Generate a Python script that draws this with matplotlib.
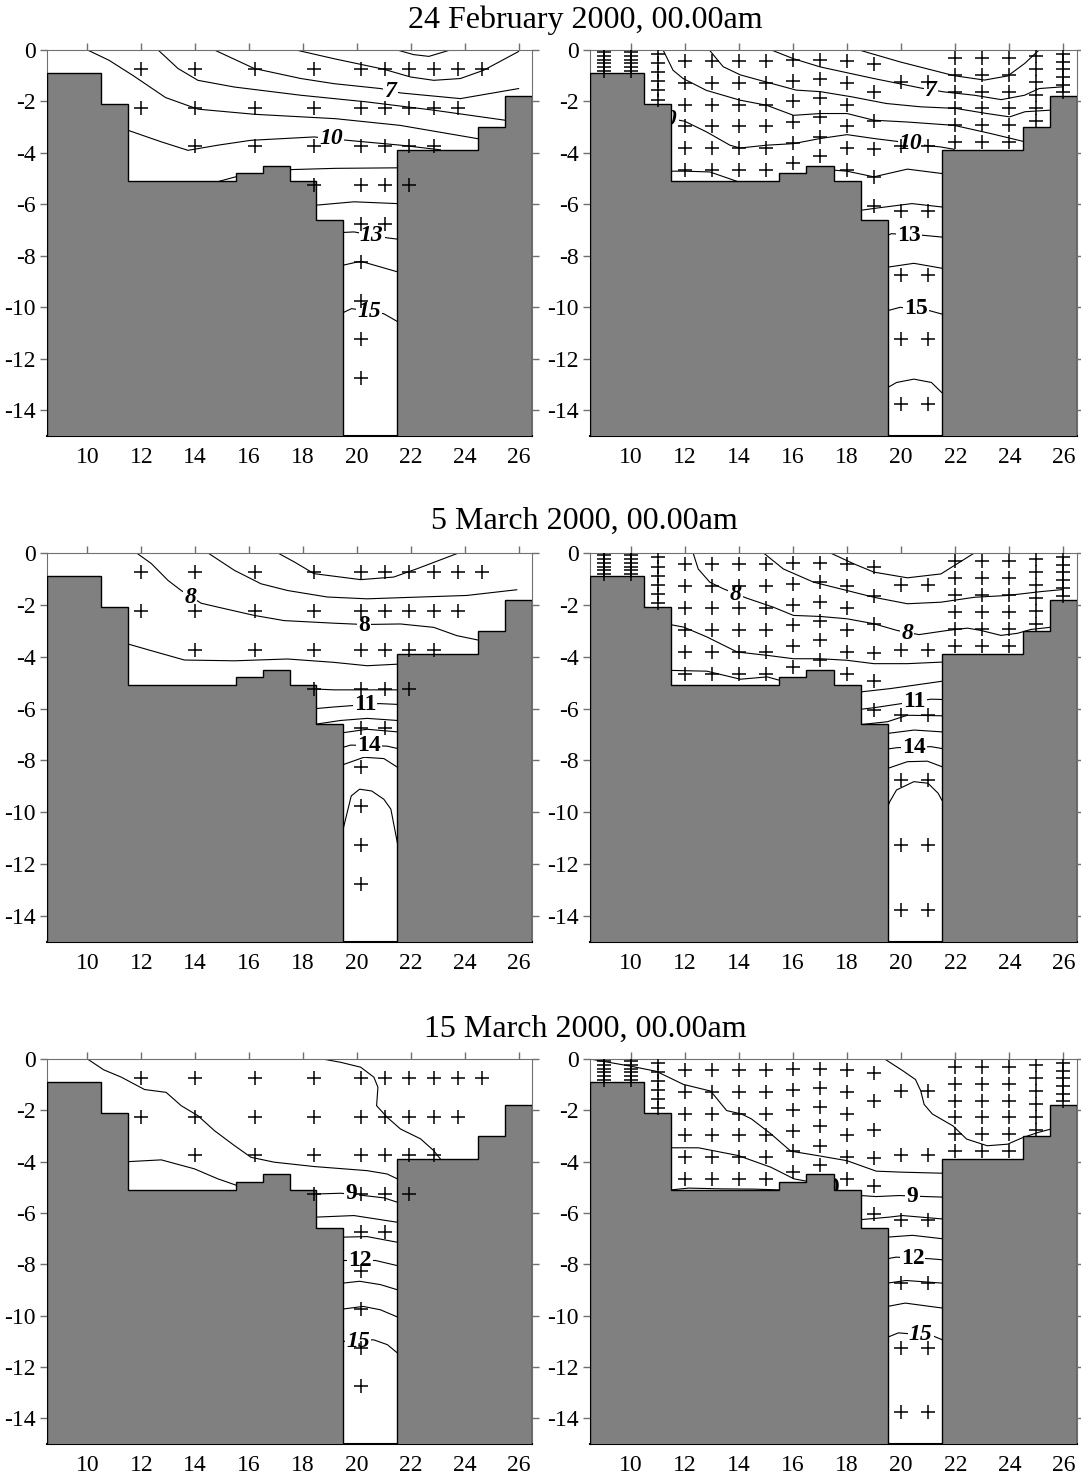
import numpy as np
import matplotlib
matplotlib.use("Agg")
import matplotlib.pyplot as plt

plt.rcParams['font.family'] = ['Liberation Serif', 'DejaVu Serif']
plt.rcParams['axes.unicode_minus'] = False

# bathymetry of the section (step edges in km, depth of each step in m)
bathy_edges = [8.5, 10.5, 11.5, 15.5, 16.5, 17.5, 18.5, 19.5, 21.5, 24.5, 25.5, 26.5]
bathy_depth = [-0.9, -2.1, -5.1, -4.8, -4.5, -5.1, -6.6, -15.0, -3.9, -3.0, -1.8]

# observation stations (left column of panels)
obs_depth = [-0.75, -2.25, -3.75, -5.25, -6.75, -8.25, -9.75, -11.25, -12.75]
obs_x = [
    [12.0, 14.0, 16.2, 18.4, 20.15, 21.05, 21.95, 22.85, 23.75, 24.65],
    [12.0, 14.0, 16.2, 18.4, 20.15, 21.05, 21.95, 22.85, 23.75],
    [14.0, 16.2, 18.4, 20.15, 21.05, 21.95, 22.85],
    [18.4, 20.15, 21.05, 21.95],
    [20.15, 21.05],
    [20.15],
    [20.15],
    [20.15],
    [20.15],
]

# model grid columns (right column of panels), 6 sigma levels
model_x = [9, 10, 11, 12, 13, 14, 15, 16, 17, 18, 19, 20, 21, 22, 23, 24, 25, 26]
sigma = [0.083, 0.25, 0.417, 0.583, 0.75, 0.917]

titles = ["24 February 2000, 00.00am", "5 March 2000, 00.00am", "15 March 2000, 00.00am"]

# isotherms: (x, depth) polylines
feb_obs_lines = [
    ([21.49, 22.1, 22.67, 23.47], [0, -0.18, -0.25, 0]),
    ([17.73, 19.15, 21.0, 21.99, 22.85, 23.84, 24.7, 26.0], [0, -0.34, -0.75, -1.05, -1.18, -1.11, -0.79, -0.06]),
    ([14.71, 16.19, 17.92, 19.15, 20.88, 21.62, 23.84, 26.0], [0, -0.72, -1.11, -1.31, -1.5, -1.67, -1.89, -1.5]),
    ([12.62, 13.36, 14.1, 15.45, 17.92, 20.38, 22.85, 25.5], [0, -0.72, -1.18, -1.44, -1.76, -2.02, -2.34, -2.73]),
    ([10.0, 10.8, 11.7, 12.9, 14.1, 16.2, 19.2, 21.6, 24.5], [0, -0.4, -1.0, -1.85, -2.3, -2.5, -2.67, -2.93, -3.45]),
    ([11.5, 12.74, 13.73, 14.84, 16.07, 18.41, 19.64, 21.62, 23.1], [-3.12, -3.57, -3.9, -3.7, -3.51, -3.38, -3.51, -3.7, -3.88]),
    ([14.9, 15.5], [-5.1, -4.93]),
    ([17.5, 19.2, 21.5], [-4.65, -4.6, -4.58]),
    ([18.5, 19.89, 21.5], [-6.03, -5.9, -5.97]),
    ([19.5, 19.89, 21.12, 21.5], [-7.09, -7.07, -7.3, -7.35]),
    ([19.5, 20.14, 21.5], [-8.36, -8.21, -8.62]),
    ([19.5, 19.8, 21.0, 21.5], [-10.2, -10.05, -10.25, -10.55]),
]
feb_obs_labels = [("7", 21.25, -1.6), ("10", 19.05, -3.45), ("13", 20.55, -7.2), ("15", 20.45, -10.15)]

feb_mod_lines = [
    ([18.44, 19.98, 21.96, 23.08, 23.94, 24.56, 25.1], [0, -0.47, -1.0, -1.17, -1.01, -0.53, 0]),
    ([15.2, 16.02, 17.01, 18.99, 20.73, 21.59, 22.71, 23.7, 24.56, 25.1, 26.0], [0, -0.34, -0.66, -1.11, -1.48, -1.63, -1.76, -1.93, -1.76, -1.5, -1.43]),
    ([12.91, 13.42, 14.06, 14.96, 16.12, 17.01, 18.17, 19.45, 20.73, 22.01, 23.17, 24.01, 24.58, 25.5], [0, -0.65, -0.97, -1.23, -1.56, -1.62, -1.82, -2.08, -2.21, -2.27, -2.47, -2.6, -2.4, -2.34]),
    ([11.2, 11.57, 11.94, 12.8, 14.04, 15.03, 16.02, 17.01, 18.0, 18.99, 20.23, 21.96, 23.32, 24.5], [0, -0.79, -1.11, -1.57, -1.95, -2.15, -2.54, -2.47, -2.47, -2.73, -2.8, -2.93, -3.25, -3.55]),
    ([11.48, 12.0, 12.8, 13.67, 14.04, 15.03, 16.02, 17.01, 18.0, 18.99, 19.98, 20.85, 21.47, 21.96], [-2.67, -2.77, -3.18, -3.7, -3.81, -3.7, -3.64, -3.44, -3.29, -3.44, -3.57, -3.7, -3.77, -3.86]),
    ([11.5, 12.0, 12.93, 13.92], [-4.71, -4.71, -4.74, -5.1]),
    ([17.5, 18.0, 18.99, 20.23, 21.5], [-4.67, -4.71, -4.93, -4.63, -4.8]),
    ([18.5, 19.2, 20.4, 21.5], [-6.23, -6.13, -5.97, -6.1]),
    ([19.5, 19.64, 20.8, 21.5], [-7.2, -7.14, -7.2, -7.27]),
    ([19.5, 20.47, 21.5], [-8.44, -8.29, -8.48]),
    ([19.5, 19.96, 21.05, 21.5], [-10.13, -10.0, -10.13, -10.26]),
    ([19.5, 19.83, 20.47, 21.12, 21.5], [-13.12, -12.92, -12.79, -12.92, -13.31]),
]
feb_mod_labels = [("7", 21.1, -1.57), ("10", 11.3, -2.72), ("10", 20.35, -3.62), ("13", 20.3, -7.2), ("15", 20.55, -10.06)]

mar5_obs_lines = [
    ([17.06, 17.68, 18.41, 20.14, 21.37, 22.23, 23.78], [0, -0.35, -0.8, -1.03, -0.93, -0.61, 0]),
    ([14.47, 15.45, 16.44, 17.43, 18.9, 20.38, 22.36, 24.08, 25.93], [0, -0.67, -1.19, -1.45, -1.7, -1.77, -1.7, -1.64, -1.42]),
    ([11.82, 12.37, 12.99, 13.48, 14.22, 14.84, 16.19, 17.3, 19.15, 20.26, 21.62, 22.85, 23.71, 24.5], [0, -0.41, -1.06, -1.45, -1.94, -2.09, -2.41, -2.61, -2.71, -2.76, -2.74, -2.87, -3.19, -3.36]),
    ([11.5, 12.37, 13.6, 15.45, 17.43, 19.15, 20.38, 21.5], [-3.51, -3.77, -4.13, -4.16, -4.09, -4.22, -4.35, -4.29]),
    ([18.5, 19.15, 21.5], [-5.25, -5.28, -5.28]),
    ([18.5, 19.15, 20.82, 21.5], [-6.0, -5.94, -5.81, -5.84]),
    ([18.5, 19.4, 20.38, 21.5], [-6.6, -6.46, -6.38, -6.46]),
    ([19.5, 20.38, 21.5], [-6.93, -6.8, -6.9]),
    ([19.5, 19.77, 21.12, 21.5], [-7.49, -7.41, -7.45, -7.54]),
    ([19.5, 20.26, 21.0, 21.5], [-8.16, -7.88, -7.93, -8.26]),
    ([19.5, 19.79, 20.1, 20.55, 21.0, 21.26, 21.5], [-10.6, -9.37, -9.11, -9.18, -9.5, -9.88, -11.17]),
]
mar5_obs_labels = [("8", 13.82, -1.72), ("8", 20.26, -2.78), ("11", 20.3, -5.86), ("14", 20.45, -7.42)]

mar5_mod_lines = [
    ([17.38, 18.25, 18.99, 20.23, 21.47, 22.71], [0, -0.42, -0.74, -0.96, -0.81, 0]),
    ([14.91, 15.65, 16.77, 18.0, 18.99, 20.23, 21.47, 22.71, 23.94, 25.18, 26.0], [0, -0.62, -1.13, -1.45, -1.71, -1.96, -1.9, -1.71, -1.64, -1.49, -1.41]),
    ([12.31, 12.5, 12.93, 13.42, 14.28, 15.27, 16.02, 17.01, 18.0, 18.99, 19.85, 20.66, 21.71, 22.45, 22.95, 23.69, 24.3, 24.8, 25.5], [0, -0.62, -1.13, -1.38, -1.74, -2.09, -2.41, -2.45, -2.54, -2.73, -2.99, -3.15, -2.99, -2.9, -2.99, -3.18, -3.1, -2.95, -2.87]),
    ([11.5, 11.96, 12.82, 13.94, 15.05, 16.02, 17.01, 18.0, 18.99, 20.23, 21.5], [-2.77, -2.86, -3.24, -3.82, -3.95, -4.08, -4.08, -4.14, -4.27, -4.27, -4.21]),
    ([11.5, 12.82, 14.06, 15.05, 15.5], [-4.53, -4.56, -4.87, -4.78, -4.91]),
    ([18.5, 19.61, 21.5], [-5.36, -5.23, -4.95]),
    ([18.5, 18.99, 21.1, 21.5], [-6.03, -5.97, -5.64, -5.65]),
    ([18.5, 19.49, 20.23, 21.5], [-6.62, -6.51, -6.26, -6.28]),
    ([19.5, 20.48, 21.5], [-6.96, -6.83, -6.9]),
    ([19.5, 19.85, 21.1, 21.5], [-7.56, -7.51, -7.47, -7.54]),
    ([19.5, 20.23, 20.97, 21.5], [-8.31, -8.05, -8.03, -8.24]),
    ([19.5, 19.58, 19.83, 20.47, 20.99, 21.37, 21.5], [-9.8, -9.59, -9.14, -8.82, -8.88, -9.27, -9.53]),
]
mar5_mod_labels = [("8", 13.88, -1.62), ("8", 20.23, -3.12), ("11", 20.48, -5.72), ("14", 20.48, -7.51)]

mar15_obs_lines = [
    ([18.72, 19.4, 20.14, 20.63, 20.78, 20.73, 21.12, 21.62, 22.36, 22.85, 23.1], [0, -0.13, -0.32, -0.71, -1.1, -1.82, -2.27, -2.73, -3.11, -3.57, -3.9]),
    ([10.0, 10.6, 11.26, 12.12, 12.92, 13.48, 14.1, 14.71, 15.45, 16.07, 16.93, 18.41, 20.38, 21.12, 21.5], [0, -0.42, -0.71, -1.19, -1.3, -1.82, -2.21, -2.79, -3.37, -3.83, -4.02, -4.19, -4.35, -4.48, -4.67]),
    ([11.5, 12.74, 13.97, 14.84, 15.5], [-4.0, -3.93, -4.28, -4.67, -4.91]),
    ([18.5, 19.4, 20.26, 21.0, 21.5], [-5.26, -5.23, -5.32, -5.41, -5.58]),
    ([18.5, 19.89, 21.5], [-6.16, -6.1, -6.36]),
    ([19.5, 20.38, 21.5], [-6.94, -6.92, -7.14]),
    ([19.5, 20.69, 21.5], [-7.85, -7.85, -8.05]),
    ([19.5, 20.1, 20.87, 21.5], [-8.73, -8.66, -8.79, -8.99]),
    ([19.5, 20.23, 20.87, 21.5], [-9.74, -9.64, -9.77, -10.05]),
    ([19.5, 20.62, 21.13, 21.5], [-11.0, -10.94, -11.13, -11.45]),
]
mar15_obs_labels = [("9", 19.8, -5.25), ("12", 20.1, -7.85), ("15", 20.05, -11.0)]

mar15_mod_lines = [
    ([19.39, 20.05, 20.53, 20.72, 20.85, 21.15, 21.92, 22.42, 23.18, 23.93, 24.5, 25.07, 25.5], [0, -0.45, -0.8, -1.23, -1.77, -2.14, -2.61, -3.12, -3.38, -3.32, -3.06, -2.86, -2.74]),
    ([8.5, 10.0, 10.95, 11.95, 12.96, 13.55, 14.09, 14.46, 15.19, 15.92, 16.89, 17.99, 19.08, 20.05, 21.5], [0, -0.28, -0.48, -0.99, -1.25, -2.01, -2.14, -2.33, -2.92, -3.59, -3.76, -3.96, -4.37, -4.41, -4.45]),
    ([11.5, 12.51, 13.97, 15.19, 16.04, 16.5], [-3.46, -3.46, -3.76, -4.22, -4.67, -4.76]),
    ([11.5, 12.15, 13.36, 14.58, 15.5], [-5.1, -5.03, -5.06, -5.07, -5.1]),
    ([18.5, 19.08, 19.93, 20.91, 21.5], [-5.32, -5.36, -5.32, -5.36, -5.38]),
    ([18.5, 19.57, 20.05, 21.5], [-6.26, -6.16, -6.1, -6.23]),
    ([19.5, 20.42, 21.5], [-6.94, -6.87, -7.0]),
    ([19.5, 19.81, 21.03, 21.5], [-7.78, -7.72, -7.78, -7.82]),
    ([19.5, 20.18, 21.5], [-8.73, -8.63, -8.73]),
    ([19.5, 20.15, 21.5], [-9.64, -9.51, -9.7]),
    ([19.5, 19.9, 20.72, 21.2, 21.5], [-10.84, -10.67, -10.74, -10.8, -10.93]),
]
mar15_mod_labels = [("10", 17.3, -5.0), ("9", 20.42, -5.35), ("12", 20.42, -7.78), ("15", 20.72, -10.72)]

panel_lines = [[feb_obs_lines, feb_mod_lines], [mar5_obs_lines, mar5_mod_lines], [mar15_obs_lines, mar15_mod_lines]]
panel_labels = [[feb_obs_labels, feb_mod_labels], [mar5_obs_labels, mar5_mod_labels], [mar15_obs_labels, mar15_mod_labels]]
# which labels (by index) are drawn in italics
italic_idx = [[[0, 1, 2, 3], [0, 1, 2]], [[0], [0, 1]], [[2], [3]]]

# model grid points from bathymetry and sigma levels
col_depth = np.array(bathy_depth)[np.searchsorted(bathy_edges, model_x, side='right') - 1]
mod_px = []
mod_py = []
for xc, d in zip(model_x, col_depth):
    for s in sigma:
        mod_px.append(xc)
        mod_py.append(d * s)

obs_px = []
obs_py = []
for d, xs in zip(obs_depth, obs_x):
    for xv in xs:
        obs_px.append(xv)
        obs_py.append(d)

fig = plt.figure(figsize=(10.81, 14.78), dpi=100)

col_left = [0.0435, 0.5458]
col_w = [0.4487, 0.4505]
row_bot = [0.705, 0.3627, 0.0230]
row_h = [0.2612, 0.2632, 0.2605]
title_y = [0.9865, 0.647, 0.3038]

for r in range(3):
    fig.text(0.541, title_y[r], titles[r], ha='center', va='center', fontsize=23)
    for c in range(2):
        ax = fig.add_axes([col_left[c], row_bot[r], col_w[c], row_h[r]])
        ax.set_xlim(8.5, 26.5)
        ax.set_ylim(-15, 0)

        # isotherms
        for xs, ys in panel_lines[r][c]:
            ax.plot(xs, ys, color='black', lw=0.8, zorder=2)
        for i, (s, lx, ly) in enumerate(panel_labels[r][c]):
            ax.text(lx, ly, s, ha='center', va='center', fontsize=17, fontweight='bold',
                    style='italic' if i in italic_idx[r][c] else 'normal',
                    bbox=dict(facecolor='white', edgecolor='none', pad=0.8), zorder=2.5)

        # bottom topography
        ax.stairs(bathy_depth, bathy_edges, baseline=-15, fill=True,
                  facecolor='#808080', edgecolor='black', linewidth=1.0, zorder=3)

        # sample points
        if c == 0:
            ax.plot(obs_px, obs_py, '+', color='black', ms=10, mew=1.1, zorder=4)
        else:
            ax.plot(mod_px, mod_py, '+', color='black', ms=10, mew=1.1, zorder=4)

        ax.set_xticks(range(10, 27, 2))
        ax.set_yticks(range(0, -15, -2))
        ax.tick_params(direction='out', length=5, width=1, color='#707070', labelsize=17,
                       top=True, right=True, bottom=False, labelbottom=True, pad=3)
        for side in ['top', 'left', 'right']:
            ax.spines[side].set_color('#707070')
        ax.spines['bottom'].set_color('black')
        ax.spines['bottom'].set_linewidth(1.5)

fig.savefig('out.png', dpi=100)
